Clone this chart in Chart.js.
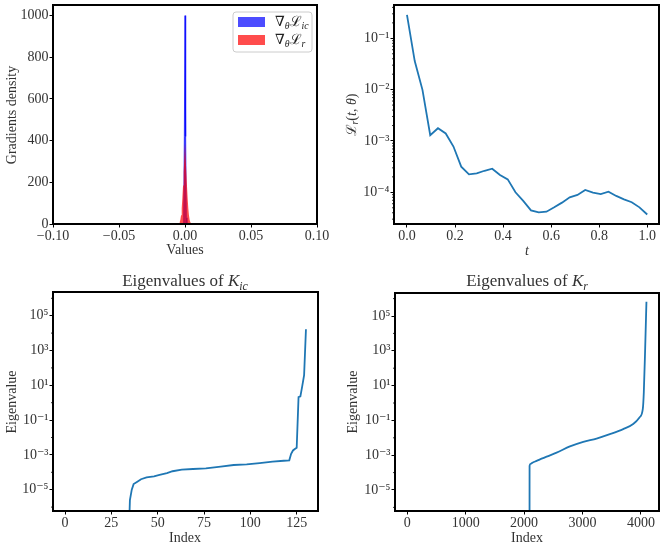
<!DOCTYPE html>
<html><head><meta charset="utf-8">
<script src="https://cdn.jsdelivr.net/npm/chart.js@4.4.0/dist/chart.umd.min.js"></script>
<style>
html,body{margin:0;padding:0;background:#fff;}
#wrap{position:relative;width:665px;height:551px;overflow:hidden;background:#fff;}
canvas{position:absolute;left:0;top:0;}
</style></head><body><div id="wrap">
<canvas id="c1" width="665" height="551"></canvas>
<canvas id="c2" width="665" height="551"></canvas>
<canvas id="c3" width="665" height="551"></canvas>
<canvas id="c4" width="665" height="551"></canvas>
</div>
<script>
// ---------- DATA ----------
// Panel 1: gradient histograms
const histBins   = [-0.005,-0.0045,-0.004,-0.0035,-0.003,-0.0025,-0.002,-0.0015,-0.001,-0.0005,0,0.0005,0.001,0.0015,0.002,0.0025,0.003,0.0035,0.004,0.0045,0.005];
const icDensity  = [0,0,0,0,0,0,0,0,30,420,1000,420,30,0,0,0,0,0,0,0,0];
const rDensity   = [0,3,9,20,42,75,125,185,250,320,387,320,250,185,125,75,42,20,9,3,0];
const seriesLabels = ['∇θℒic','∇θℒr'];
const histTicksX = [-0.1,-0.05,0,0.05,0.1];
const histTicksY = [0,200,400,600,800,1000];

// Panel 2: residual loss over t
const tValues = [0,0.0323,0.0645,0.0968,0.129,0.1613,0.1935,0.2258,0.2581,0.2903,0.3226,0.3548,0.3871,0.4194,0.4516,0.4839,0.5161,0.5484,0.5806,0.6129,0.6452,0.6774,0.7097,0.7419,0.7742,0.8065,0.8387,0.871,0.9032,0.9355,0.9677,1.0];
const lossValues = [0.285,0.036,0.0099,0.0013,0.00177,0.0014,0.00078,0.000316,0.000224,0.000234,0.000263,0.000288,0.000218,0.000179,0.0001,0.000068,0.0000445,0.0000407,0.000042,0.000051,0.000063,0.00008,0.000089,0.000111,0.000099,0.000092,0.000103,0.000085,0.000073,0.000064,0.000051,0.000037];
const lossTicksX = [0,0.2,0.4,0.6,0.8,1.0];
const lossTicksY = [1e-4,1e-3,1e-2,1e-1];

// Panel 3: eigenvalues of K_ic
const icIndex = [34,35,36,37,39,41,44,48,51,55,58,63,69,76,84,91,98,105,112,118,121,122,123,124,125,126,127,128,129,130];
const icEigen = [1e-9,2.5e-6,1.0e-5,2.1e-5,2.9e-5,4.0e-5,5.1e-5,5.9e-5,7.1e-5,9.1e-5,1.15e-4,1.41e-4,1.55e-4,1.7e-4,2.14e-4,2.63e-4,2.88e-4,3.4e-4,4.1e-4,4.6e-4,4.9e-4,1.15e-3,1.8e-3,2.2e-3,2.6e-3,2.1,2.3,8.9,38,1.66e4];
const icTicksX = [0,25,50,75,100,125];

// Panel 4: eigenvalues of K_r
const rIndex = [2093,2094,2110,2150,2215,2300,2386,2557,2785,3013,3241,3469,3697,3868,3976,4033,4050,4073,4095];
const rEigen = [1e-9,2.4e-4,3.2e-4,3.8e-4,4.7e-4,6.3e-4,8.3e-4,1.4e-3,3.2e-3,5.9e-3,9.1e-3,0.0162,0.0316,0.062,0.148,0.457,4.1,1320,6.6e5];
const rTicksX = [0,1000,2000,3000,4000];
const eigTicksY = [1e-5,1e-3,1e-1,1e1,1e3,1e5];

// ---------- HELPERS ----------
const FONT = "'Liberation Serif','DejaVu Serif',serif";
const TXT = '#333333';
const LINE = '#1f77b4';
const SUP = {'0':'⁰','1':'¹','2':'²','3':'³','4':'⁴','5':'⁵','6':'⁶','7':'⁷','8':'⁸','9':'⁹','-':'⁻'};
function logLabel(v){ const e = String(Math.round(Math.log10(v))); return '10' + e.split('').map(c=>SUP[c]).join(''); }
function minus(s){ return s.replace('-', '−'); }

function drawRich(ctx, it){
  const size = it.size || 14;
  let total = 0;
  const m = it.segs.map(s => {
    const fs = s.sub ? size*0.7 : size;
    const f = (s.it ? 'italic ' : '') + fs + 'px ' + FONT;
    ctx.font = f;
    const w = ctx.measureText(s.t).width;
    total += w;
    return {f, w};
  });
  ctx.save();
  ctx.translate(it.x, it.y);
  if (it.rot) ctx.rotate(it.rot);
  ctx.fillStyle = it.color || TXT;
  ctx.textBaseline = 'middle';
  ctx.textAlign = 'left';
  let x = it.align === 'left' ? 0 : -total/2;
  it.segs.forEach((s,i) => {
    ctx.font = m[i].f;
    ctx.fillText(s.t, x, s.sub ? size*0.28 : 0);
    x += m[i].w;
  });
  ctx.restore();
}

const decorPlugin = {
  id: 'decor',
  afterDraw(chart, args, opts){
    const ctx = chart.ctx, a = chart.chartArea;
    ctx.save();
    if (opts.minor){
      ctx.strokeStyle = '#000'; ctx.lineWidth = 0.8;
      opts.minor.forEach(v => {
        const y = chart.scales.y.getPixelForValue(v);
        if (y < a.top || y > a.bottom) return;
        ctx.beginPath(); ctx.moveTo(a.left-2, y); ctx.lineTo(a.left, y); ctx.stroke();
      });
    }
    ctx.strokeStyle = '#000'; ctx.lineWidth = 2;
    ctx.strokeRect(a.left, a.top, a.right-a.left, a.bottom-a.top);
    (opts.texts||[]).forEach(t => drawRich(ctx, t));
    if (opts.legend){
      const L = opts.legend;
      ctx.beginPath();
      if (ctx.roundRect) ctx.roundRect(L.x, L.y, L.w, L.h, 3); else ctx.rect(L.x, L.y, L.w, L.h);
      ctx.fillStyle = 'rgba(255,255,255,0.8)'; ctx.fill();
      ctx.strokeStyle = '#cccccc'; ctx.lineWidth = 1; ctx.stroke();
      L.items.forEach((item, i) => {
        ctx.fillStyle = item.color;
        ctx.fillRect(L.x+5, L.y+5+i*18, 27, 10);
        drawRich(ctx, {x: L.x+42, y: L.y+10.5+i*18, align: 'left', size: 14, segs: item.segs, color: '#222'});
      });
    }
    ctx.restore();
  }
};

function axis(o){
  return {
    type: o.type, min: o.min, max: o.max, position: o.position,
    afterBuildTicks: s => { s.ticks = o.ticks.map(v => ({value: v})); },
    afterFit: s => {
      if (o.position === 'left') s.width = o.size; else s.height = o.size;
      s.paddingTop = 0; s.paddingBottom = 0; s.paddingLeft = 0; s.paddingRight = 0;
    },
    grid: {display: true, drawOnChartArea: false, drawTicks: true, tickLength: 3.5, tickColor: '#000', tickWidth: 1},
    border: {display: false},
    ticks: {font: {family: FONT, size: 14}, color: TXT, padding: o.position === 'left' ? 1 : 0, maxRotation: 0, minRotation: 0, autoSkip: false, callback: o.fmt}
  };
}

function makeChart(id, datasets, box, xs, ys, decor){
  return new Chart(document.getElementById(id), {
    type: 'line',
    data: {datasets},
    options: {
      responsive: false, animation: false, events: [],
      layout: {padding: {left: 0, top: box.top, right: 665 - box.right, bottom: 0}},
      plugins: {legend: {display: false}, tooltip: {enabled: false}, title: {display: false}, decor},
      scales: {
        x: axis(Object.assign({position: 'bottom', size: 551 - box.bottom}, xs)),
        y: axis(Object.assign({position: 'left', size: box.left}, ys))
      }
    },
    plugins: [decorPlugin]
  });
}
const zip = (xs, ys) => xs.map((x,i) => ({x, y: ys[i]}));

function minorTicks(lo, hi, oddOnly){
  const out = [];
  for (let k = lo; k <= hi; k++){
    if (oddOnly){ if (Math.abs(k) % 2 === 0) out.push(Math.pow(10,k)); }
    else for (let mm = 2; mm <= 9; mm++) out.push(mm*Math.pow(10,k));
  }
  return out;
}

const segIc = [{t:'∇'},{t:'θ',sub:1,it:1},{t:'ℒ'},{t:'ic',sub:1,it:1}];
const segR  = [{t:'∇'},{t:'θ',sub:1,it:1},{t:'ℒ'},{t:'r',sub:1,it:1}];

// ---------- PANEL 1 ----------
makeChart('c1', [
  {label: seriesLabels[0], data: zip(histBins, icDensity), order: 2, fill: 'origin',
   backgroundColor: 'rgba(0,0,255,0.7)', borderColor: 'rgba(0,0,255,0.7)', borderWidth: 1, pointRadius: 0, tension: 0},
  {label: seriesLabels[1], data: zip(histBins, rDensity), order: 1, fill: 'origin',
   backgroundColor: 'rgba(255,0,0,0.7)', borderColor: 'rgba(255,0,0,0)', borderWidth: 0, pointRadius: 0, tension: 0}
], {left: 53, top: 5, right: 317, bottom: 224},
  {type: 'linear', min: -0.1, max: 0.1, ticks: histTicksX, fmt: v => minus(v.toFixed(2))},
  {type: 'linear', min: 0, max: 1051, ticks: histTicksY, fmt: v => String(v)},
  {texts: [
    {x: 12, y: 115, rot: -Math.PI/2, size: 14, segs: [{t:'Gradients density'}]},
    {x: 185, y: 250, size: 14, segs: [{t:'Values'}]}
  ],
  legend: {x: 233, y: 12, w: 79, h: 40, items: [
    {color: 'rgba(0,0,255,0.7)', segs: segIc},
    {color: 'rgba(255,0,0,0.7)', segs: segR}
  ]}}
);

// ---------- PANEL 2 ----------
makeChart('c2', [
  {label: 'L_r', data: zip(tValues, lossValues), borderColor: LINE, borderWidth: 1.8, pointRadius: 0, tension: 0, fill: false}
], {left: 394, top: 5, right: 659, bottom: 224},
  {type: 'linear', min: -0.054, max: 1.049, ticks: lossTicksX, fmt: v => v.toFixed(1)},
  {type: 'logarithmic', min: Math.pow(10,-4.617), max: Math.pow(10,-0.351), ticks: lossTicksY, fmt: v => logLabel(v)},
  {minor: minorTicks(-5, -1, false), texts: [
    {x: 352, y: 115, rot: -Math.PI/2, size: 14, segs: [{t:'ℒ'},{t:'r',sub:1,it:1},{t:'('},{t:'t',it:1},{t:', '},{t:'θ',it:1},{t:')'}]},
    {x: 527, y: 251, size: 14, segs: [{t:'t',it:1}]}
  ]}
);

// ---------- PANEL 3 ----------
makeChart('c3', [
  {label: 'K_ic', data: zip(icIndex, icEigen), borderColor: LINE, borderWidth: 1.8, pointRadius: 0, tension: 0, fill: false}
], {left: 53, top: 292, right: 318, bottom: 511},
  {type: 'linear', min: -6.5, max: 136.5, ticks: icTicksX, fmt: v => String(v)},
  {type: 'logarithmic', min: Math.pow(10,-6.224), max: Math.pow(10,6.362), ticks: eigTicksY, fmt: v => logLabel(v)},
  {minor: minorTicks(-7, 7, true), texts: [
    {x: 185, y: 282, size: 17, segs: [{t:'Eigenvalues of '},{t:'K',it:1},{t:'ic',sub:1,it:1}]},
    {x: 12, y: 402, rot: -Math.PI/2, size: 14, segs: [{t:'Eigenvalue'}]},
    {x: 185, y: 538, size: 14, segs: [{t:'Index'}]}
  ]}
);

// ---------- PANEL 4 ----------
makeChart('c4', [
  {label: 'K_r', data: zip(rIndex, rEigen), borderColor: LINE, borderWidth: 1.8, pointRadius: 0, tension: 0.3, cubicInterpolationMode: 'monotone', fill: false}
], {left: 395, top: 293, right: 659, bottom: 511},
  {type: 'linear', min: -210, max: 4310, ticks: rTicksX, fmt: v => String(v)},
  {type: 'logarithmic', min: Math.pow(10,-6.207), max: Math.pow(10,6.322), ticks: eigTicksY, fmt: v => logLabel(v)},
  {minor: minorTicks(-7, 7, true), texts: [
    {x: 527, y: 282, size: 17, segs: [{t:'Eigenvalues of '},{t:'K',it:1},{t:'r',sub:1,it:1}]},
    {x: 353, y: 402, rot: -Math.PI/2, size: 14, segs: [{t:'Eigenvalue'}]},
    {x: 527, y: 538, size: 14, segs: [{t:'Index'}]}
  ]}
);
</script></body></html>
